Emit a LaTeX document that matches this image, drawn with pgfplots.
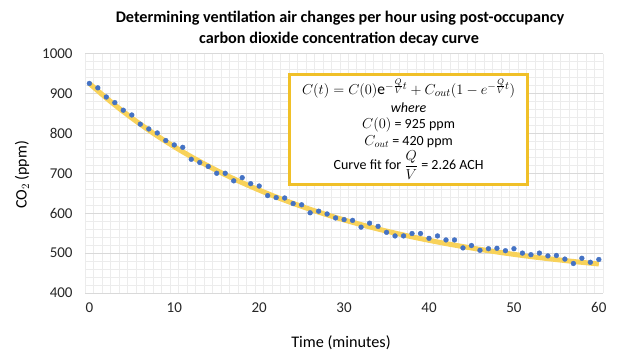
\documentclass[border=0pt]{standalone}
\usepackage{amsmath}
\usepackage{pgfplots}
\pgfplotsset{compat=1.18}
\usepackage{fontspec}
\setmainfont{Carlito}
\definecolor{ptblue}{RGB}{68,114,196}
\definecolor{fitgold}{RGB}{248,210,90}
\definecolor{boxgold}{RGB}{240,192,40}
\definecolor{majgrid}{RGB}{217,217,217}
\definecolor{mingrid}{RGB}{236,236,236}
\begin{document}
\begin{tikzpicture}[x=1pt,y=1pt]
\path[use as bounding box] (0,0) rectangle (640,360);
\begin{axis}[
  at={(85.1pt,67pt)}, anchor=south west,
  scale only axis, width=518pt, height=239.5pt,
  xmin=-0.5, xmax=60.5, ymin=400, ymax=1000,
  xtick={0,10,...,60}, ytick={400,500,...,1000},
  minor xtick={-0.5,0.5,...,60.5},
  minor ytick={420,440,...,980},
  xminorgrids=true, ymajorgrids=true, yminorgrids=true,
  major grid style={majgrid, line width=0.8pt},
  minor grid style={mingrid, line width=0.7pt},
  axis line style={draw=none},
  major tick length=0pt, minor tick length=0pt,
  tick label style={font=\fontsize{15}{18}\selectfont, text=black!85},
  /pgf/number format/assume math mode=true,
  /pgf/number format/1000 sep={},
  yticklabel style={xshift=-9pt},
  xticklabel style={yshift=-6pt},
  clip=false,
]
\addplot[fitgold, line width=5pt, smooth, no markers] coordinates {
(0,925.0) (2,888.4) (4,854.4) (6,822.9) (8,793.6) (10,766.5) (12,741.4)
(14,718.1) (16,696.4) (18,676.4) (20,657.8) (22,640.5) (24,624.5)
(26,609.7) (28,595.9) (30,583.1) (32,571.3) (34,560.3) (36,550.1)
(38,540.7) (40,531.9) (42,523.8) (44,516.3) (46,509.3) (48,502.8)
(50,496.8) (52,491.2) (54,486.1) (56,481.3) (58,476.8) (60,472.7)
};
\addplot[only marks, mark=*, mark size=2.4pt, mark options={ptblue, draw=ptblue}] coordinates {
(0,925) (1,914) (2,891) (3,877) (4,858) (5,846) (6,823) (7,811) (8,801)
(9,782) (10,771) (11,765) (12,735) (13,727) (14,717) (15,700) (16,700)
(17,681) (18,689) (19,674) (20,668) (21,644) (22,639) (23,638) (24,624)
(25,621) (26,601) (27,605) (28,598) (29,588) (30,584) (31,582) (32,565)
(33,575) (34,567) (35,552) (36,543) (37,543) (38,549) (39,549) (40,537)
(41,543) (42,533) (43,533) (44,513) (45,519) (46,507) (47,511) (48,512)
(49,506) (50,511) (51,500) (52,496) (53,500) (54,493) (55,494) (56,485)
(57,474) (58,487) (59,477) (60,484)
};
\node[draw=boxgold, line width=2.6pt, fill=white, minimum width=238pt, minimum height=110pt,
  align=center, inner sep=2pt, font=\fontsize{14}{16.5}\selectfont]
  at (axis cs:37.6,810) {%
  {\fontsize{15.5}{18}\selectfont $C(t) = C(0)\mathrm{e}^{-\frac{Q}{V}t} + C_{out}(1-e^{-\frac{Q}{V}t})$}\\[1pt]
  {\itshape where}\\
  $C(0)$ = 925 ppm\\
  $C_{out}$ = 420 ppm\\[2pt]
  Curve fit for $\dfrac{Q}{V}$ = 2.26 ACH};
\end{axis}
\node[font=\fontsize{16.2}{19}\selectfont\bfseries] at (340,342) {Determining ventilation air changes per hour using post-occupancy};
\node[font=\fontsize{16.2}{19}\selectfont\bfseries] at (339,321) {carbon dioxide concentration decay curve};
\node[font=\fontsize{16}{19}\selectfont, rotate=90] at (22,185) {CO$_2$ (ppm)};
\node[font=\fontsize{16.2}{19}\selectfont] at (341,17) {Time (minutes)};
\end{tikzpicture}
\end{document}
